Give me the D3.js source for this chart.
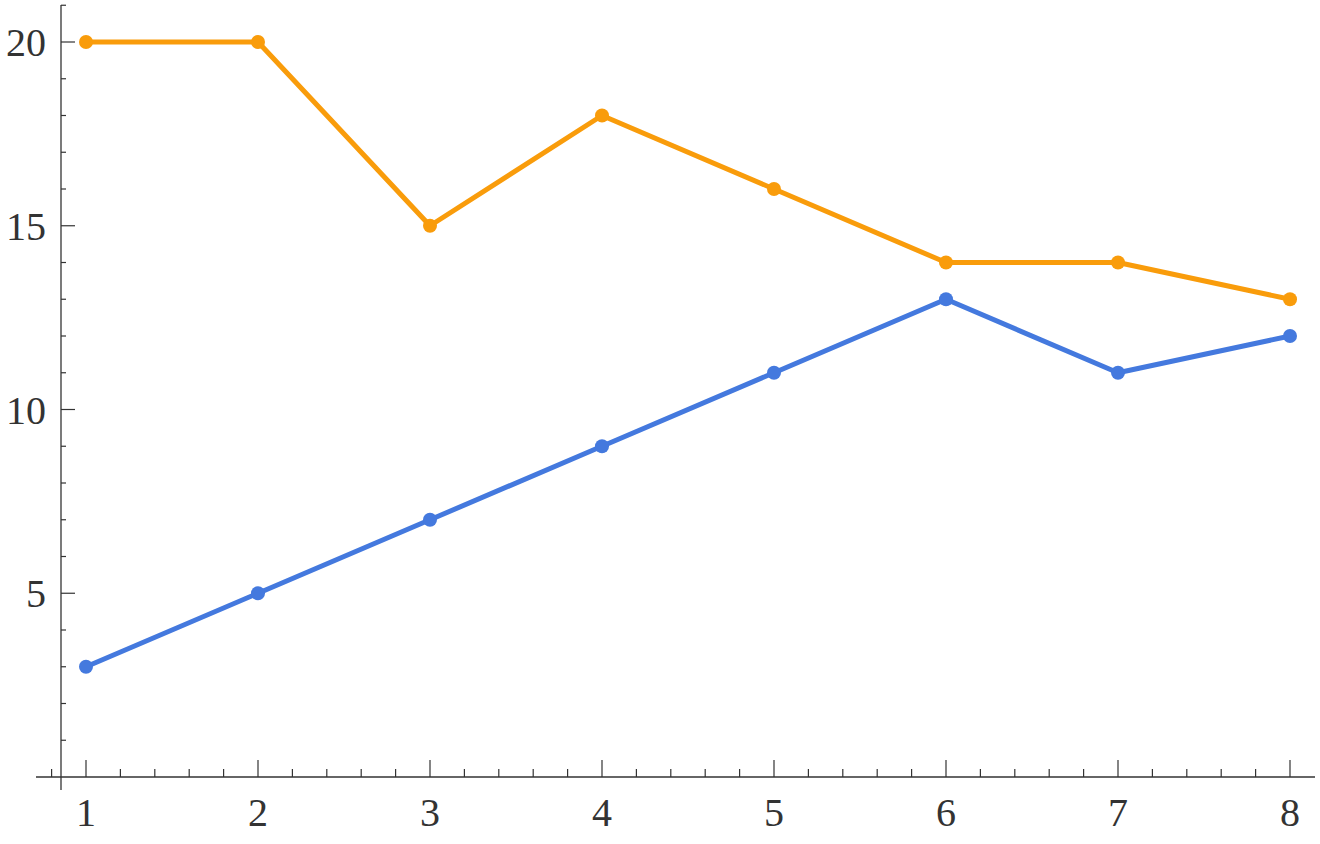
<!DOCTYPE html>
<html><head><meta charset="utf-8">
<script src="https://cdn.jsdelivr.net/npm/d3@7"></script>
<style>body{margin:0;background:#fff}svg{display:block}</style>
</head><body>
<svg id="c" width="1320" height="844"></svg>
<script>
const xValues = [1,2,3,4,5,6,7,8];
const orangeSeries = [20,20,15,18,16,14,14,13];
const blueSeries = [3,5,7,9,11,13,11,12];
const xTickLabels = ["1","2","3","4","5","6","7","8"];
const yTickValues = [5,10,15,20];
const yTickLabels = ["5","10","15","20"];

const svg = d3.select("#c");
const x = d3.scaleLinear().domain([1,8]).range([86,1290]);
const y = d3.scaleLinear().domain([0,20]).range([777,42]);
const axisColor = "#333";
const font = "'Liberation Serif', 'DejaVu Serif', serif";

svg.append("line").attr("x1",36).attr("x2",1315).attr("y1",y(0)).attr("y2",y(0))
  .attr("stroke",axisColor).attr("stroke-width",1.3);
const yAxisX = 61;
svg.append("line").attr("x1",yAxisX).attr("x2",yAxisX).attr("y1",5).attr("y2",790)
  .attr("stroke",axisColor).attr("stroke-width",1.3);

const xMinor = d3.range(0.8, 8.01, 0.2).map(v=>+v.toFixed(1)).filter(v=>Math.abs(v-Math.round(v))>1e-6);
svg.selectAll(".xmin").data(xMinor).join("line")
  .attr("x1",d=>x(d)).attr("x2",d=>x(d)).attr("y1",y(0)).attr("y2",y(0)-8)
  .attr("stroke",axisColor).attr("stroke-width",1.2);
svg.selectAll(".xmaj").data(xValues).join("line")
  .attr("x1",d=>x(d)).attr("x2",d=>x(d)).attr("y1",y(0)).attr("y2",y(0)-17)
  .attr("stroke",axisColor).attr("stroke-width",1.2);
svg.selectAll(".xlab").data(xValues).join("text")
  .attr("x",d=>x(d)).attr("y",826).attr("text-anchor","middle")
  .attr("font-family",font).attr("font-size",40).attr("fill","#333")
  .text((d,i)=>xTickLabels[i]);

const yMinor = d3.range(1,22).filter(v=>v%5!==0);
svg.selectAll(".ymin").data(yMinor).join("line")
  .attr("x1",yAxisX).attr("x2",yAxisX+5).attr("y1",d=>y(d)).attr("y2",d=>y(d))
  .attr("stroke",axisColor).attr("stroke-width",1.2);
svg.selectAll(".ymaj").data(yTickValues).join("line")
  .attr("x1",yAxisX).attr("x2",yAxisX+14).attr("y1",d=>y(d)).attr("y2",d=>y(d))
  .attr("stroke",axisColor).attr("stroke-width",1.2);
svg.selectAll(".ylab").data(yTickValues).join("text")
  .attr("x",46).attr("y",d=>y(d)+14).attr("text-anchor","end")
  .attr("font-family",font).attr("font-size",40).attr("fill","#333")
  .text((d,i)=>yTickLabels[i]);

const line = d3.line().x((d,i)=>x(xValues[i])).y(d=>y(d));
function series(data,color){
  svg.append("path").datum(data).attr("d",line).attr("fill","none")
    .attr("stroke",color).attr("stroke-width",5).attr("stroke-linejoin","round");
  svg.selectAll(null).data(data).join("circle")
    .attr("cx",(d,i)=>x(xValues[i])).attr("cy",d=>y(d)).attr("r",7).attr("fill",color);
}
series(orangeSeries,"#F99C0B");
series(blueSeries,"#4479DE");
</script>
</body></html>
